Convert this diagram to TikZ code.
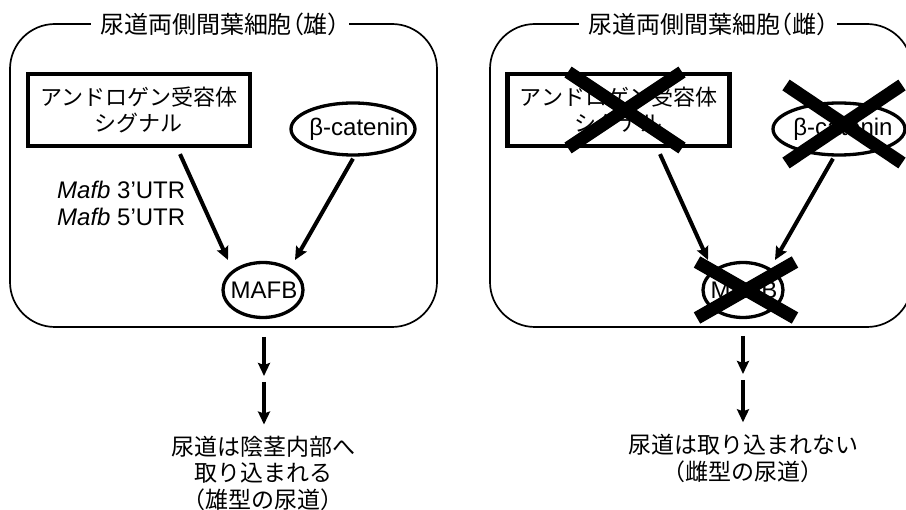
\documentclass[tikz,border=0pt]{standalone}
\usepackage{fontspec}
\setmainfont{Liberation Sans}
\newfontfamily\jp{Noto Sans CJK JP}
\newfontfamily\jph[RawFeature=+halt]{Noto Sans CJK JP}
\usetikzlibrary{arrows.meta,shapes.geometric}
\begin{document}
\begin{tikzpicture}[x=1pt,y=-1pt,
  panel/.style={draw, line width=1.7pt, rounded corners=45pt, rectangle, inner sep=0pt},
  ttl/.style={fill=white, inner xsep=9pt, inner ysep=2pt, font=\jp\fontsize{24}{26}\selectfont},
  sigbox/.style={draw, line width=4.2pt, rectangle, minimum width=222pt, minimum height=72pt, align=center, inner sep=0pt, font=\jp\fontsize{22}{25.5}\selectfont},
  oval/.style={draw, line width=3.3pt, ellipse, inner sep=0pt, font=\fontsize{24}{26}\selectfont},
  arr/.style={line width=4pt, -{Stealth[length=13pt,width=12pt,inset=2pt]}},
  crossln/.style={line width=13pt, line cap=butt},
  res/.style={align=center, inner sep=0pt, font=\jp\fontsize{23}{26.5}\selectfont},
  lbl/.style={align=left, inner sep=0pt, font=\fontsize{24}{27}\selectfont}
]
\useasboundingbox (0,0) rectangle (906,510);
\begin{scope}
\clip (0,0) rectangle (906,510);

% ---------- left panel ----------
\node[panel, minimum width=427pt, minimum height=303pt] (pl) at (223.5,175.5) {};
\node[ttl] (tl) at (220,24) {尿道両側間葉細胞{\jph （}雄{\jph ）}};
\node[sigbox] (ar) at (139,110) {アンドロゲン受容体\\シグナル};
\node[oval, minimum width=124pt, minimum height=52pt] (bc) at (353,129) {\makebox[0pt]{\hspace{12pt}β-catenin}};
\node[oval, minimum width=80pt, minimum height=55pt] (mf) at (263,290) {\makebox[0pt]{\hspace{2pt}MAFB}};
\node[lbl, anchor=west] (utr) at (57,203.5) {\textit{Mafb} 3’UTR\\\textit{Mafb} 5’UTR};
\draw[arr] ([xshift=41pt,yshift=-6pt]ar.south) -- ([xshift=-35pt,yshift=30pt]mf.center);
\draw[arr] ([yshift=-2pt]bc.south) -- ([xshift=32pt,yshift=30pt]mf.center);

\node[res] (rl) at (263,473) {尿道は陰茎内部へ\\取り込まれる\\（雄型の尿道）};
\coordinate (ml) at (264,379);
\draw[arr] ([yshift=-9pt]pl.south -| ml) -- ([yshift=3pt]ml);
\draw[arr] ([yshift=-3pt]ml) -- ([yshift=11pt]rl.north -| ml);

% ---------- right panel ----------
\node[panel, minimum width=422pt, minimum height=303pt] (pr) at (701,175.5) {};
\node[ttl] (tr) at (708,24) {尿道両側間葉細胞{\jph （}雌{\jph ）}};
\node[sigbox] (ar2) at (618.5,110) {アンドロゲン受容体\\シグナル};
\node[oval, minimum width=132pt, minimum height=52pt] (bc2) at (839,129) {\makebox[0pt]{\hspace{8pt}β-catenin}};
\node[oval, minimum width=80pt, minimum height=55pt] (mf2) at (743,290) {\makebox[0pt]{\hspace{2pt}MAFB}};
\draw[arr] ([xshift=41.5pt,yshift=-6pt]ar2.south) -- ([xshift=-35pt,yshift=30pt]mf2.center);
\draw[arr] ([xshift=-6pt,yshift=-2pt]bc2.south) -- ([xshift=32pt,yshift=30pt]mf2.center);

% crosses
\draw[crossln] ([shift={(-50.5pt,38pt)}]ar2.center) -- ++(114pt,-76pt);
\draw[crossln] ([shift={(63.5pt,38pt)}]ar2.center) -- ++(-114pt,-76pt);
\draw[crossln] ([shift={(-53pt,44pt)}]bc2.center) -- ++(116pt,-78pt);
\draw[crossln] ([shift={(63pt,44pt)}]bc2.center) -- ++(-116pt,-78pt);
\draw[crossln] ([shift={(-46pt,28pt)}]mf2.center) -- ++(98pt,-56pt);
\draw[crossln] ([shift={(52pt,28pt)}]mf2.center) -- ++(-98pt,-56pt);

\node[res] (rr) at (743,458.5) {尿道は取り込まれない\\（雌型の尿道）};
\coordinate (mr) at (743,377);
\draw[arr] ([yshift=-8pt]pr.south -| mr) -- ([yshift=3pt]mr);
\draw[arr] ([yshift=-3pt]mr) -- ([yshift=12pt]rr.north -| mr);
\end{scope}
\end{tikzpicture}
\end{document}
